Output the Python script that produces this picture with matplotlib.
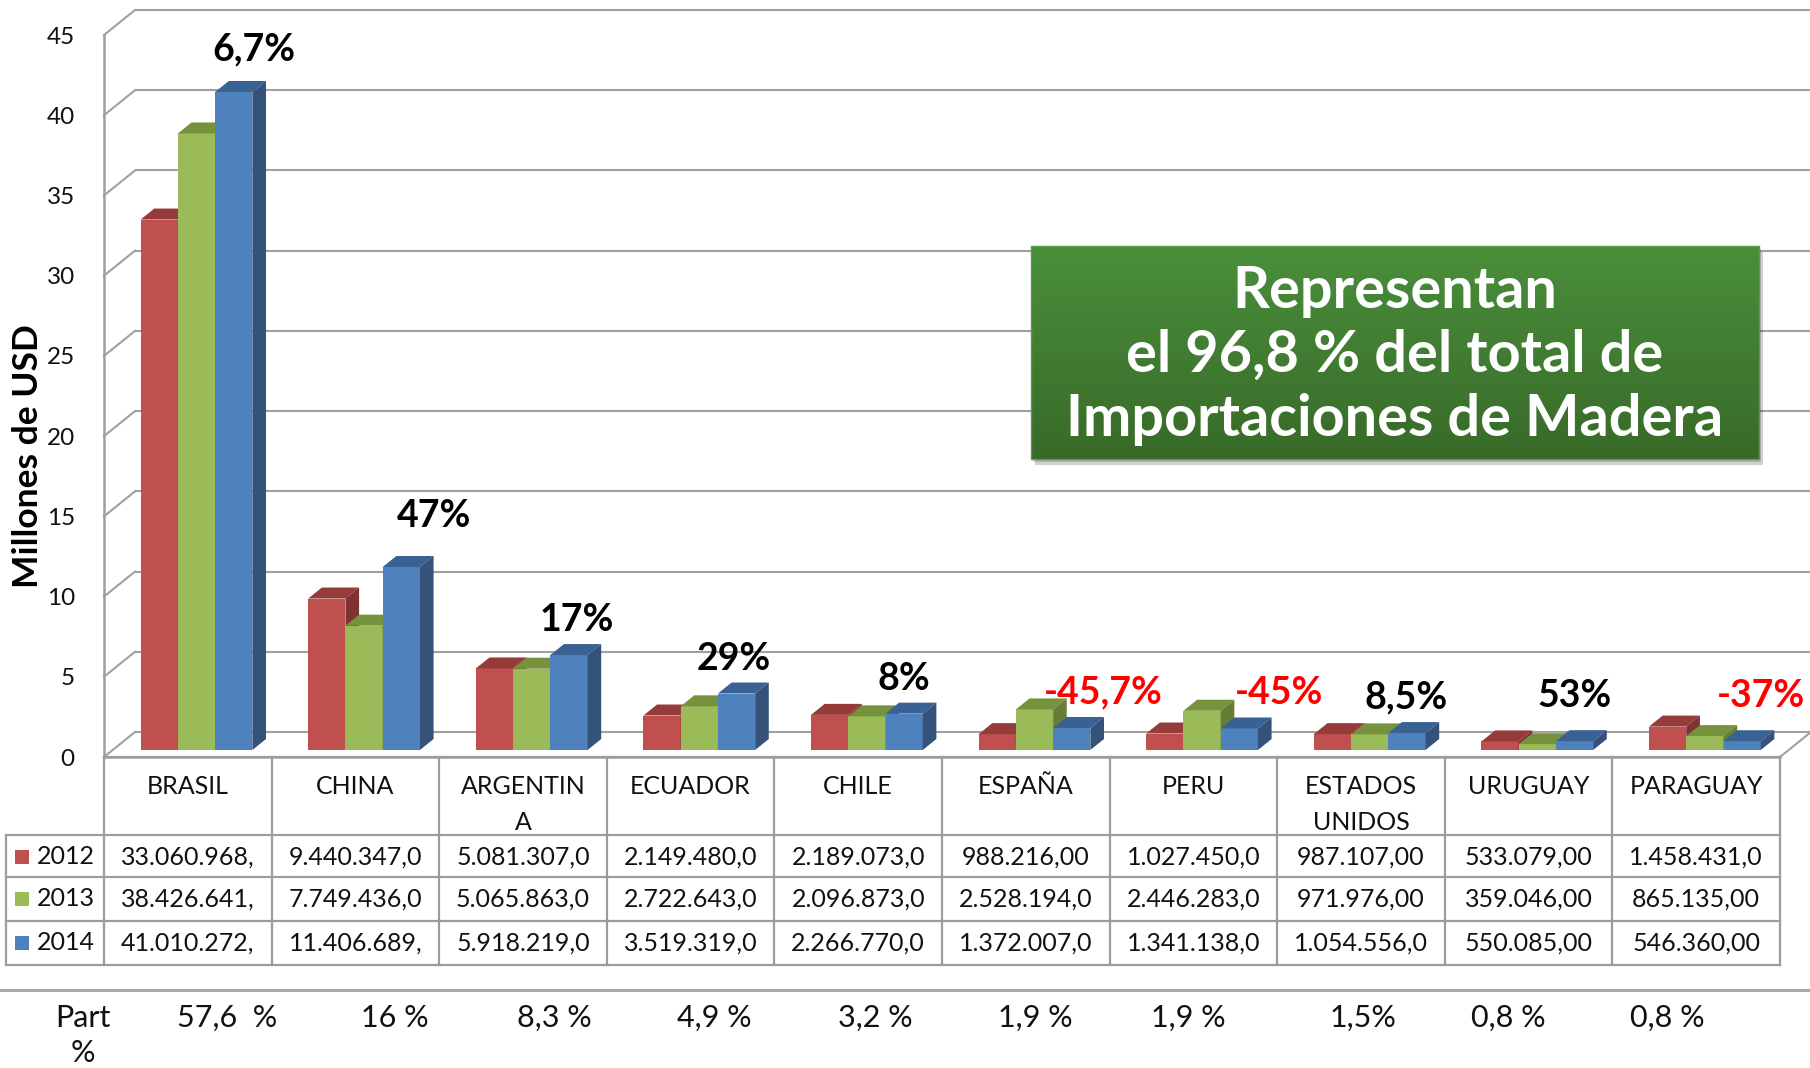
import matplotlib
matplotlib.use("Agg")
import matplotlib.pyplot as plt
import numpy as np
from matplotlib.patches import Polygon, Rectangle
import matplotlib.colors as mcolors

# ---------------- data ----------------
categories = ['BRASIL', 'CHINA', 'ARGENTINA', 'ECUADOR', 'CHILE', 'ESPAÑA',
              'PERU', 'ESTADOS UNIDOS', 'URUGUAY', 'PARAGUAY']
header_labels = ['BRASIL', 'CHINA', 'ARGENTIN\nA', 'ECUADOR', 'CHILE', 'ESPAÑA',
                 'PERU', 'ESTADOS\nUNIDOS', 'URUGUAY', 'PARAGUAY']
years = ['2012', '2013', '2014']
v2012 = [33.060968, 9.440347, 5.081307, 2.149480, 2.189073, 0.988216, 1.027450, 0.987107, 0.533079, 1.458431]
v2013 = [38.426641, 7.749436, 5.065863, 2.722643, 2.096873, 2.528194, 2.446283, 0.971976, 0.359046, 0.865135]
v2014 = [41.010272, 11.406689, 5.918219, 3.519319, 2.266770, 1.372007, 1.341138, 1.054556, 0.550085, 0.546360]
t2012 = ['33.060.968,', '9.440.347,0', '5.081.307,0', '2.149.480,0', '2.189.073,0',
         '988.216,00', '1.027.450,0', '987.107,00', '533.079,00', '1.458.431,0']
t2013 = ['38.426.641,', '7.749.436,0', '5.065.863,0', '2.722.643,0', '2.096.873,0',
         '2.528.194,0', '2.446.283,0', '971.976,00', '359.046,00', '865.135,00']
t2014 = ['41.010.272,', '11.406.689,', '5.918.219,0', '3.519.319,0', '2.266.770,0',
         '1.372.007,0', '1.341.138,0', '1.054.556,0', '550.085,00', '546.360,00']
growth_labels = ['6,7%', '47%', '17%', '29%', '8%', '-45,7%', '-45%', '8,5%', '53%', '-37%']
share_labels = ['57,6  %', '16 %', '8,3 %', '4,9 %', '3,2 %', '1,9 %', '1,9 %', '1,5%', '0,8 %', '0,8 %']
y_ticks = [0, 5, 10, 15, 20, 25, 30, 35, 40, 45]
box_text = 'Representan\nel 96,8 % del total de\nImportaciones de Madera'
y_title = 'Millones de USD'

# ---------------- layout ----------------
W, H = 1810, 1068
PX_L, PX_R, PX_Y0, PX_YTOP = 104, 1780, 757, 35
NCAT = len(categories)
col_px = (PX_R - PX_L) / NCAT
val_px = (PX_Y0 - PX_YTOP) / 45.0
DX_PX, DY_PX = 31, 25                 # wall depth in pixels
ddx, ddy = DX_PX / col_px, DY_PX / val_px   # depth in data units
T0, T1 = 0.28, 0.72                   # bar depth range
GAP = 1.5
bw = 1.0 / (3 + GAP)

# growth label positions (data coords of main axes)
lab_x = [0.895, 1.969, 2.822, 3.759, 4.773, 5.961, 7.011, 7.768, 8.771, 9.887]
lab_y = [44.08, 15.02, 8.54, 6.11, 4.86, 3.99, 3.99, 3.74, 3.80, 3.80]
share_x = [227, 395, 554, 714, 875, 1035, 1188, 1363, 1508, 1667]

front_cols = ['#C0504D', '#9BBB59', '#4F81BD']
top_cols = ['#953B39', '#76923C', '#3A6193']
side_cols = ['#7E3231', '#667D37', '#34527A']
grid_col = '#A0A0A0'
tab_col = '#9C9C9C'

fig = plt.figure(figsize=(W / 100, H / 100), dpi=100)
fig.patch.set_facecolor('white')

ax = fig.add_axes([PX_L / W, 1 - PX_Y0 / H, (PX_R - PX_L) / W, (PX_Y0 - PX_YTOP) / H])
ax.set_xlim(0, NCAT)
ax.set_ylim(0, 45)
ax.patch.set_visible(False)
for s in ax.spines.values():
    s.set_visible(False)
ax.set_xticks([])
ax.set_yticks(y_ticks)
ax.set_yticklabels([str(t) for t in y_ticks], fontfamily='Lato', fontsize=17.5, color='#111111')
ax.tick_params(axis='y', length=0, pad=21)
ax.set_ylabel(y_title, fontfamily='Lato', fontweight='bold', fontsize=25.5)
ax.yaxis.set_label_coords((44 - PX_L) / (PX_R - PX_L), (PX_Y0 - 456) / (PX_Y0 - PX_YTOP))

# walls: back gridlines, side stubs, floor
for v in y_ticks:
    ax.plot([ddx, NCAT + ddx + 0.5], [v + ddy, v + ddy], color=grid_col, lw=1.5,
            clip_on=False, zorder=1, solid_capstyle='butt')
    ax.plot([0, ddx], [v, v + ddy], color=grid_col, lw=1.5, clip_on=False, zorder=1)
ax.plot([0, 0], [0, 45], color=grid_col, lw=1.8, clip_on=False, zorder=1)
ax.plot([0, NCAT], [0, 0], color=grid_col, lw=1.8, clip_on=False, zorder=1)
ax.plot([NCAT, NCAT + ddx], [0, ddy], color=grid_col, lw=1.5, clip_on=False, zorder=1)

# 3D-looking bars
series = [v2012, v2013, v2014]
z = 2
for i in range(NCAT):
    for j, vals in enumerate(series):
        h = vals[i]
        x0 = i + GAP * bw / 2 + j * bw + T0 * ddx
        y0 = T0 * ddy
        bdx, bdy = (T1 - T0) * ddx, (T1 - T0) * ddy
        ax.add_patch(Rectangle((x0, y0), bw, h, facecolor=front_cols[j], edgecolor='none',
                               zorder=z, clip_on=False))
        ax.add_patch(Polygon([(x0, y0 + h), (x0 + bw, y0 + h), (x0 + bw + bdx, y0 + h + bdy),
                              (x0 + bdx, y0 + h + bdy)], closed=True, facecolor=top_cols[j],
                             edgecolor='none', zorder=z, clip_on=False))
        ax.add_patch(Polygon([(x0 + bw, y0), (x0 + bw, y0 + h), (x0 + bw + bdx, y0 + h + bdy),
                              (x0 + bw + bdx, y0 + bdy)], closed=True, facecolor=side_cols[j],
                             edgecolor='none', zorder=z, clip_on=False))
        z += 1

for lx, ly, lab in zip(lab_x, lab_y, growth_labels):
    col = '#FF0000' if lab.startswith('-') else 'black'
    ax.text(lx, ly, lab, ha='center', va='center', fontfamily='Lato', fontweight='bold',
            fontsize=27, color=col, zorder=100, clip_on=False)

# ---------------- overlay (table, box) in pixel coords ----------------
ov = fig.add_axes([0, 0, 1, 1], zorder=5)
ov.set_xlim(0, W)
ov.set_ylim(H, 0)
ov.axis('off')
ov.patch.set_visible(False)

# green box with gradient and shadow
bx0, bx1, by0, by1 = 1031, 1759, 246, 459
ov.add_patch(Rectangle((bx0 + 4, by0 + 6), bx1 - bx0, by1 - by0, facecolor='#000000',
                       alpha=0.18, edgecolor='none', zorder=1))
ov.add_patch(Rectangle((bx0 + 2, by0 + 3), bx1 - bx0, by1 - by0, facecolor='#000000',
                       alpha=0.15, edgecolor='none', zorder=1))
c_top = np.array(mcolors.to_rgb('#4A8F3B'))
c_bot = np.array(mcolors.to_rgb('#386A29'))
tt = np.linspace(0, 1, 200)[:, None, None]
grad = c_top[None, None, :] * (1 - tt) + c_bot[None, None, :] * tt
ov.imshow(grad, extent=(bx0, bx1, by1, by0), aspect='auto', zorder=2, interpolation='bilinear')
ov.add_patch(Rectangle((bx0, by0), bx1 - bx0, by1 - by0, facecolor='none',
                       edgecolor='#5A9A48', lw=1, zorder=3))
for k, line in enumerate(box_text.split('\n')):
    ov.text((bx0 + bx1) / 2, 291 + k * 64, line, ha='center', va='center', color='white',
            fontfamily='Lato', fontweight='bold', fontsize=41.5, zorder=4)
ov.set_xlim(0, W)
ov.set_ylim(H, 0)

# table
xs = [PX_L + k * col_px for k in range(NCAT + 1)]
row_y = [757, 835, 877, 921, 965]
lw_t = 1.6
ov.plot([6, PX_R], [835, 835], color=tab_col, lw=lw_t)
for yy in row_y[2:]:
    ov.plot([6, PX_R], [yy, yy], color=tab_col, lw=lw_t)
ov.plot([PX_L, PX_R], [757, 757], color=tab_col, lw=lw_t)
for xx in xs:
    ov.plot([xx, xx], [757, 965], color=tab_col, lw=lw_t)
ov.plot([6, 6], [835, 965], color=tab_col, lw=lw_t)
ov.plot([0, W], [990, 990], color='#A8A8A8', lw=2.2)

tab_font = dict(fontfamily='Lato', fontsize=18, color='#111111')
for i, lab in enumerate(header_labels):
    cx = (xs[i] + xs[i + 1]) / 2
    for k, part in enumerate(lab.split('\n')):
        ov.text(cx, 787 + k * 35, part, ha='center', va='center', **tab_font)

row_centers = [857, 899, 943]
for r, (yr, texts) in enumerate(zip(years, [t2012, t2013, t2014])):
    yc = row_centers[r]
    ov.add_patch(Rectangle((15, yc - 7), 14, 14, facecolor=front_cols[r], edgecolor='none'))
    ov.text(37, yc, yr, ha='left', va='center', **tab_font)
    for i, tx in enumerate(texts):
        cx = (xs[i] + xs[i + 1]) / 2
        ov.text(cx, yc, tx, ha='center', va='center', **tab_font)

part_font = dict(fontfamily='Lato', fontweight='normal', fontsize=22, color='#111111')
ov.text(83, 1018, 'Part', ha='center', va='center', **part_font)
ov.text(83, 1053, '%', ha='center', va='center', **part_font)
for sx, sl in zip(share_x, share_labels):
    ov.text(sx, 1018, sl, ha='center', va='center', **part_font)

fig.savefig('out.png', dpi=100)
